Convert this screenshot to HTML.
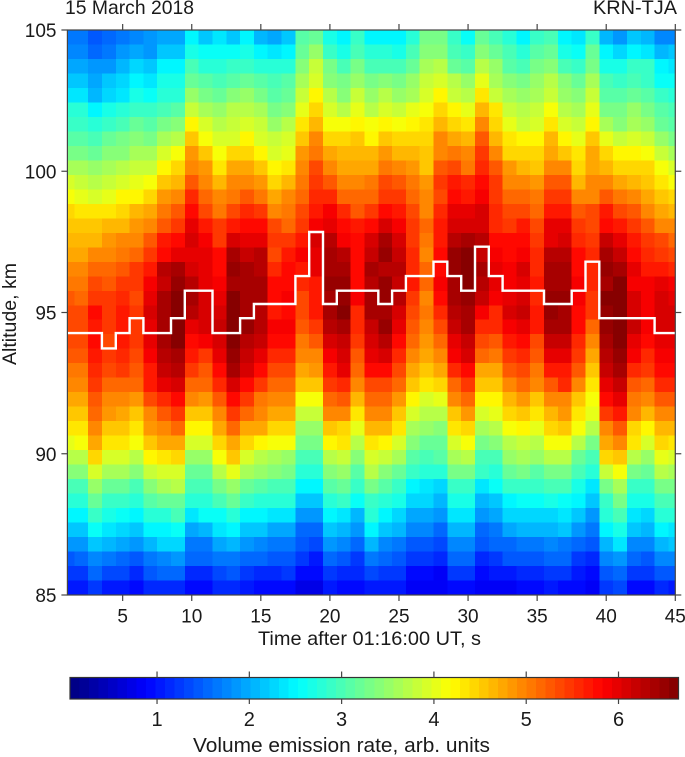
<!DOCTYPE html>
<html>
<head>
<meta charset="utf-8">
<title>Volume emission rate</title>
<style>
html,body{margin:0;padding:0;background:#fff;}
svg{display:block;}
text{font-family:"Liberation Sans",Arial,sans-serif;fill:#1a1a1a;}
</style>
</head>
<body>
<svg id="chart" xmlns="http://www.w3.org/2000/svg" width="685" height="757" viewBox="0 0 685 757">
<g id="heatmap" shape-rendering="crispEdges"></g>
<polyline id="peak" fill="none" stroke="#ffffff" stroke-width="2.4"></polyline>
<rect x="67.4" y="30" width="607.9" height="565" fill="none" stroke="#444" stroke-width="1.2"></rect>
<g id="axes"></g>
<g id="colorbar"></g>
<text x="65" y="14" font-size="19.5" textLength="129" lengthAdjust="spacingAndGlyphs">15 March 2018</text>
<text x="593" y="14" font-size="19.5" textLength="84" lengthAdjust="spacingAndGlyphs">KRN-TJA</text>
<text x="258" y="645" font-size="19.5" textLength="223" lengthAdjust="spacingAndGlyphs">Time after 01:16:00 UT, s</text>
<text transform="translate(16,365) rotate(-90)" font-size="19.5" textLength="102" lengthAdjust="spacingAndGlyphs">Altitude, km</text>
<text x="193" y="752" font-size="20" textLength="297" lengthAdjust="spacingAndGlyphs">Volume emission rate, arb. units</text>
</svg>
<script>
const xTicks = [5,10,15,20,25,30,35,40,45];
const yTicks = [85,90,95,100,105];
const colorbarTicks = [1,2,3,4,5,6];
const peakAltitude = [94.27,94.27,94.27,93.73,94.27,94.8,94.27,94.27,94.8,95.77,95.77,94.27,94.27,94.8,95.3,95.3,95.3,96.29,97.85,95.3,95.77,95.77,95.77,95.3,95.77,96.29,96.29,96.8,96.29,95.77,97.33,96.29,95.77,95.77,95.77,95.3,95.3,95.77,96.8,94.8,94.8,94.8,94.8,94.27,94.27];
const emission = [
[1.7,1.7,1.4,1.5,1.7,1.8,1.9,2.0,2.0,2.5,2.2,2.4,2.2,2.5,2.1,2.0,2.2,3.1,3.2,2.7,2.5,2.9,2.5,2.5,2.5,2.8,3.3,3.3,2.9,2.6,3.2,3.0,2.8,2.5,2.9,3.0,2.5,2.4,2.9,2.1,1.9,2.2,2.1,1.8,1.8],
[1.8,1.8,1.6,1.7,1.9,2.0,1.9,2.2,2.2,2.7,2.6,2.6,2.6,2.7,2.5,2.4,2.5,3.2,3.5,2.9,2.7,3.0,2.8,2.8,2.7,3.0,3.4,3.4,3.0,2.9,3.4,3.2,3.0,2.8,3.1,3.2,2.7,2.6,3.2,2.5,2.3,2.5,2.4,2.1,2.2],
[2.0,2.0,1.9,1.9,2.1,2.3,2.2,2.5,2.5,3.0,2.8,2.8,2.9,2.9,2.8,2.8,2.8,3.4,3.8,3.3,3.0,3.3,3.0,3.0,3.0,3.2,3.6,3.7,3.2,3.1,3.7,3.5,3.1,3.0,3.3,3.4,3.0,2.9,3.3,2.7,2.7,2.9,2.9,2.5,2.4],
[2.2,2.2,2.0,2.2,2.3,2.5,2.4,2.7,2.7,3.2,3.1,3.0,3.1,3.2,3.1,3.0,3.1,3.6,3.9,3.4,3.3,3.5,3.3,3.4,3.3,3.5,3.8,3.9,3.7,3.5,4.0,3.6,3.4,3.3,3.5,3.7,3.4,3.2,3.6,3.0,2.9,3.0,2.9,2.6,2.6],
[2.4,2.4,2.1,2.3,2.4,2.7,2.6,2.8,2.8,3.5,3.3,3.2,3.4,3.5,3.3,3.1,3.2,3.8,4.2,3.7,3.4,3.8,3.5,3.7,3.5,3.6,3.9,4.2,3.8,3.7,4.3,3.8,3.6,3.5,3.6,3.8,3.5,3.4,3.8,3.1,3.1,3.2,3.1,2.9,2.8],
[2.8,2.8,2.5,2.7,2.8,2.9,2.9,3.0,3.1,3.8,3.6,3.5,3.7,3.7,3.6,3.3,3.4,4.0,4.4,3.9,3.7,4.0,3.7,3.9,3.8,4.0,4.1,4.4,4.2,4.0,4.6,4.3,3.8,3.7,3.8,4.1,3.7,3.6,4.0,3.3,3.3,3.5,3.3,3.1,3.0],
[2.9,2.9,2.8,2.9,3.0,3.2,3.1,3.3,3.4,4.2,3.9,3.7,3.8,3.9,3.8,3.5,3.7,4.3,4.6,4.1,4.1,4.2,4.1,4.2,4.1,4.2,4.3,4.6,4.4,4.3,4.9,4.4,4.0,3.8,3.9,4.3,3.9,3.8,4.2,3.6,3.4,3.6,3.5,3.2,3.1],
[3.1,3.1,3.0,3.2,3.3,3.4,3.3,3.6,3.7,4.5,4.1,3.9,3.9,4.2,3.9,3.8,3.9,4.5,5.0,4.4,4.4,4.5,4.2,4.5,4.4,4.4,4.4,4.9,4.7,4.6,5.3,4.6,4.3,4.2,4.2,4.6,4.2,4.0,4.5,4.0,3.8,3.9,3.8,3.5,3.3],
[3.3,3.3,3.2,3.4,3.4,3.6,3.6,3.9,4.1,4.8,4.5,4.1,4.4,4.4,4.2,3.9,4.0,4.8,5.1,4.7,4.6,4.6,4.6,4.8,4.6,4.6,4.5,5.0,5.1,4.9,5.5,5.0,4.4,4.4,4.4,4.7,4.5,4.3,4.7,4.4,4.2,4.2,4.1,3.8,3.6],
[3.6,3.6,3.5,3.6,3.7,3.8,3.8,4.2,4.4,5.0,4.8,4.3,4.7,4.7,4.5,4.2,4.3,5.0,5.4,5.0,4.7,4.7,4.7,5.1,4.9,4.8,4.5,5.3,5.4,5.1,5.6,5.3,4.8,4.6,4.5,5.0,5.0,4.4,4.7,4.6,4.4,4.4,4.4,4.1,3.9],
[3.9,3.8,3.7,3.8,3.9,4.0,4.1,4.5,4.6,5.3,5.0,4.6,4.9,4.9,4.8,4.4,4.6,5.1,5.5,5.3,5.0,5.0,5.1,5.4,5.3,5.1,4.8,5.5,5.7,5.6,5.8,5.5,5.0,5.0,4.8,5.3,5.3,4.6,4.9,4.9,4.7,4.6,4.5,4.3,4.1],
[4.1,4.0,3.9,4.0,4.2,4.2,4.4,4.8,4.9,5.6,5.2,4.9,5.1,5.3,5.1,4.7,4.9,5.2,5.6,5.6,5.2,5.2,5.2,5.5,5.5,5.2,4.9,5.4,5.8,5.7,5.9,5.5,5.2,5.2,5.1,5.5,5.5,4.9,5.0,5.3,5.1,4.9,4.7,4.5,4.4],
[4.4,4.3,4.3,4.3,4.4,4.6,4.7,5.1,5.3,5.8,5.4,5.1,5.4,5.6,5.5,5.0,5.1,5.4,5.7,5.9,5.6,5.3,5.5,5.8,5.7,5.4,5.0,5.6,6.0,6.0,6.1,5.6,5.4,5.4,5.2,5.7,5.7,5.3,5.4,5.7,5.4,5.3,5.0,4.7,4.6],
[4.5,4.5,4.5,4.6,4.6,4.8,4.9,5.3,5.5,6.0,5.7,5.5,5.7,5.8,5.8,5.4,5.2,5.5,5.9,6.0,5.8,5.7,5.8,6.1,5.9,5.5,5.2,5.7,6.1,6.1,6.1,5.6,5.5,5.7,5.4,6.0,6.0,5.5,5.4,5.8,5.7,5.5,5.3,5.0,4.9],
[4.6,4.6,4.6,4.8,4.9,5.0,5.3,5.7,5.8,6.1,5.9,5.5,6.1,6.0,6.0,5.5,5.5,5.7,6.1,6.3,5.9,5.8,6.1,6.4,6.1,5.5,5.1,5.7,6.3,6.4,6.3,5.8,5.8,5.8,5.5,6.0,6.1,5.6,5.5,6.2,6.0,5.7,5.5,5.4,5.2],
[4.7,4.7,4.9,4.9,5.1,5.2,5.5,5.8,6.0,6.0,6.0,5.8,6.4,6.2,6.3,5.4,5.7,5.9,6.0,6.4,6.3,5.8,6.2,6.5,6.2,5.6,5.0,5.8,6.5,6.6,6.2,5.9,5.8,5.9,5.6,6.3,6.3,5.8,5.6,6.4,6.2,5.8,5.6,5.5,5.4],
[5.0,5.0,5.2,5.2,5.3,5.5,5.7,6.3,6.4,6.1,6.0,5.8,6.5,6.4,6.3,5.6,5.8,5.7,6.0,6.4,6.4,5.8,6.4,6.3,6.3,5.6,5.2,5.8,6.5,6.7,6.4,6.0,5.9,6.1,5.6,6.4,6.4,5.8,5.6,6.5,6.4,6.0,5.7,5.7,5.6],
[5.1,5.1,5.4,5.3,5.5,5.5,5.9,6.2,6.5,6.3,6.0,5.9,6.4,6.4,6.4,5.8,5.8,5.6,5.7,6.5,6.5,5.8,6.3,6.5,6.2,5.7,5.2,5.9,6.4,6.6,6.3,6.0,5.9,6.0,5.7,6.4,6.4,5.9,5.6,6.4,6.6,5.9,5.9,6.0,5.9],
[5.3,5.2,5.5,5.5,5.6,5.4,6.0,6.4,6.6,6.4,6.1,6.0,6.6,6.4,6.4,5.8,5.9,5.4,5.7,6.4,6.5,5.9,6.4,6.5,6.3,5.5,5.0,5.8,6.4,6.5,6.2,5.9,6.0,6.1,5.6,6.5,6.5,5.9,5.5,6.6,6.7,6.1,5.9,6.1,6.0],
[5.4,5.4,5.8,5.5,5.7,5.5,6.1,6.4,6.6,6.3,6.1,6.1,6.7,6.4,6.3,5.7,5.8,5.4,5.7,6.4,6.6,5.6,6.4,6.4,6.1,5.4,5.1,5.6,6.3,6.4,5.9,5.6,6.1,6.2,5.7,6.5,6.4,5.8,5.5,6.5,6.7,6.1,5.9,6.1,6.1],
[5.4,5.4,5.7,5.5,5.7,5.5,6.0,6.4,6.6,6.0,6.1,6.2,6.7,6.5,6.3,5.9,5.9,5.3,5.5,6.3,6.4,5.6,6.2,6.5,6.0,5.3,5.0,5.4,6.2,6.4,5.6,5.6,5.9,6.0,5.7,6.4,6.4,5.8,5.2,6.5,6.7,6.2,5.9,6.1,6.1],
[5.4,5.4,5.8,5.4,5.7,5.5,6.0,6.4,6.6,5.8,5.9,6.1,6.6,6.3,6.2,5.8,5.8,5.1,5.3,6.1,6.2,5.5,6.1,6.3,5.8,5.2,4.8,5.2,6.0,6.2,5.4,5.3,5.7,5.8,5.4,6.2,6.2,5.6,5.0,6.4,6.6,6.0,5.8,6.0,6.0],
[5.3,5.3,5.7,5.5,5.6,5.4,5.9,6.3,6.4,5.7,5.5,6.0,6.5,6.2,6.0,5.6,5.6,4.9,5.0,5.9,6.1,5.3,6.0,6.1,5.6,5.0,4.7,4.9,5.9,6.1,5.2,5.1,5.5,5.6,5.3,6.0,6.0,5.5,4.7,6.3,6.5,5.9,5.6,5.9,5.9],
[5.1,5.1,5.6,5.4,5.5,5.3,5.7,6.2,6.3,5.5,5.3,5.8,6.4,6.1,5.8,5.4,5.4,4.7,4.8,5.7,6.0,5.2,5.8,5.8,5.4,4.7,4.5,4.7,5.6,5.8,4.7,4.7,5.3,5.4,5.1,5.7,5.7,5.3,4.5,6.2,6.4,5.6,5.5,5.8,5.8],
[4.9,4.9,5.5,5.2,5.2,5.2,5.7,6.0,6.1,5.2,5.2,5.6,6.1,5.8,5.5,5.2,5.2,4.5,4.5,5.5,5.6,5.0,5.4,5.4,5.2,4.5,4.3,4.4,5.2,5.5,4.5,4.5,5.0,5.2,4.9,5.3,5.6,5.0,4.3,6.0,6.2,5.3,5.2,5.6,5.6],
[4.7,4.7,5.3,5.0,5.0,4.8,5.4,5.6,5.8,4.9,4.8,5.3,5.8,5.5,5.1,4.9,4.9,4.1,4.1,5.2,5.3,4.6,5.2,5.2,4.8,4.2,3.9,4.0,5.0,5.2,4.2,4.2,4.6,4.8,4.5,5.0,5.0,4.5,4.1,5.8,6.0,5.1,4.9,5.3,5.3],
[4.5,4.5,5.2,4.8,4.7,4.5,5.0,5.3,5.5,4.5,4.5,5.0,5.5,5.2,4.9,4.7,4.7,3.8,3.8,4.9,5.0,4.3,4.9,4.9,4.5,3.9,3.7,3.7,4.5,4.8,3.9,4.0,4.4,4.5,4.3,4.6,4.8,4.3,4.0,5.5,5.7,4.9,4.6,5.0,5.0],
[4.3,4.3,4.9,4.5,4.5,4.3,4.8,4.9,5.2,4.2,4.2,4.7,5.2,4.7,4.7,4.4,4.4,3.5,3.5,4.5,4.4,4.0,4.6,4.6,4.3,3.6,3.5,3.4,4.3,4.4,3.6,3.7,4.1,4.2,4.0,4.4,4.5,4.1,3.7,5.0,5.3,4.4,4.2,4.6,4.6],
[4.0,4.1,4.7,4.3,4.3,4.1,4.5,4.7,4.7,3.9,3.9,4.4,4.7,4.4,4.2,4.1,4.1,3.3,3.3,4.2,4.3,3.7,4.3,4.2,3.9,3.4,3.2,3.2,3.9,4.1,3.3,3.4,3.7,3.8,3.7,4.1,4.1,3.7,3.3,4.7,5.0,4.3,3.9,4.4,4.3],
[3.7,3.7,4.4,3.9,3.9,3.7,4.2,4.3,4.4,3.5,3.5,4.1,4.5,3.9,3.7,3.6,3.5,3.0,3.0,3.7,3.8,3.4,3.9,3.8,3.6,3.1,3.0,3.1,3.6,3.7,3.0,3.0,3.5,3.6,3.5,3.7,3.7,3.2,3.0,4.4,4.5,3.7,3.5,4.0,3.9],
[3.4,3.4,3.9,3.6,3.6,3.4,3.8,3.9,3.9,3.2,3.2,3.7,4.0,3.6,3.5,3.4,3.3,2.8,2.8,3.4,3.5,3.1,3.7,3.4,3.2,2.9,2.8,2.8,3.3,3.3,2.9,2.8,3.2,3.3,3.1,3.3,3.3,3.0,2.8,3.8,4.1,3.3,3.2,3.7,3.6],
[3.0,3.0,3.5,3.2,3.2,3.0,3.4,3.6,3.7,3.0,3.0,3.3,3.5,3.2,3.1,3.0,3.0,2.5,2.5,3.1,3.2,2.9,3.3,3.1,2.9,2.5,2.4,2.3,2.9,2.9,2.4,2.6,2.9,2.9,2.9,3.0,3.0,2.7,2.4,3.3,3.6,2.9,2.9,3.3,3.3],
[2.8,2.8,3.2,2.9,2.9,2.8,3.1,3.2,3.2,2.8,2.8,3.0,3.2,2.9,2.8,2.8,2.8,2.2,2.2,2.8,2.9,2.6,2.9,2.8,2.7,2.3,2.3,2.1,2.7,2.7,2.1,2.2,2.5,2.6,2.6,2.7,2.6,2.5,2.2,2.9,3.3,2.7,2.7,3.0,3.0],
[2.5,2.5,2.9,2.7,2.6,2.5,2.8,2.8,3.0,2.4,2.6,2.6,2.8,2.5,2.5,2.4,2.4,1.9,1.9,2.5,2.4,2.1,2.8,2.5,2.3,2.0,2.0,1.9,2.4,2.4,1.9,2.0,2.3,2.3,2.3,2.3,2.4,2.2,1.9,2.8,3.0,2.4,2.3,2.8,2.8],
[2.2,2.2,2.6,2.4,2.3,2.2,2.5,2.5,2.6,2.0,2.1,2.4,2.5,2.2,2.2,2.0,2.0,1.6,1.6,2.2,2.1,1.9,2.5,2.2,2.1,1.8,1.8,1.6,2.1,2.1,1.6,1.7,2.0,2.1,2.1,2.1,2.2,1.9,1.7,2.5,2.7,2.2,2.1,2.5,2.4],
[1.9,1.9,2.2,2.1,2.0,1.9,2.1,2.3,2.3,1.7,1.7,2.0,2.1,1.9,1.8,1.7,1.7,1.4,1.3,1.9,1.8,1.5,2.1,1.8,1.7,1.4,1.4,1.3,1.8,1.8,1.4,1.5,1.6,1.7,1.7,1.8,1.7,1.5,1.4,2.1,2.4,1.8,1.8,2.1,2.2],
[1.4,1.5,1.8,1.7,1.6,1.4,1.7,1.8,1.9,1.5,1.5,1.7,1.7,1.5,1.5,1.4,1.4,1.2,1.0,1.5,1.4,1.2,1.7,1.5,1.4,1.2,1.2,1.1,1.5,1.5,1.1,1.2,1.4,1.4,1.4,1.5,1.5,1.2,1.1,1.8,1.9,1.5,1.4,1.8,1.8],
[1.2,1.2,1.5,1.3,1.3,1.1,1.4,1.5,1.5,1.1,1.1,1.3,1.4,1.2,1.1,1.1,1.2,0.9,0.9,1.2,1.1,1.1,1.3,1.2,1.2,0.9,0.9,0.8,1.2,1.2,0.9,1.0,1.0,1.1,1.1,1.2,1.2,1.0,0.9,1.4,1.6,1.2,1.2,1.4,1.4],
[1.0,1.0,1.2,1.0,1.0,0.9,1.1,1.1,1.1,0.9,0.9,1.1,1.1,1.0,0.9,0.9,0.9,0.7,0.7,1.0,0.9,0.9,1.0,1.0,1.0,0.8,0.8,0.8,0.9,0.9,0.8,0.8,0.8,0.9,0.9,1.0,0.9,0.9,0.8,1.2,1.3,0.9,0.9,1.1,1.0]
];

const SVGNS = "http://www.w3.org/2000/svg";
const plot = {left:67.4, right:675.3, top:30, bottom:595};
const tMin = 1, tMax = 45, altMin = 85, altMax = 105;
const bar = {left:70, right:678.5, top:677.5, bottom:699, vMin:0.057, vMax:6.65};

function xScale(t){ return plot.left + (t - tMin) / (tMax - tMin) * (plot.right - plot.left); }
function yScale(a){ return plot.bottom - (a - altMin) / (altMax - altMin) * (plot.bottom - plot.top); }
function barX(v){ return bar.left + (v - bar.vMin) / (bar.vMax - bar.vMin) * (bar.right - bar.left); }

function jet(level){
  const f = (level + 0.5) / 64;
  function ch(c){ return Math.round(255 * Math.max(0, Math.min(1, 1.5 - Math.abs(4 * f - c)))); }
  return "rgb(" + ch(3) + "," + ch(2) + "," + ch(1) + ")";
}
function levelOf(v){
  const l = Math.floor((v - bar.vMin) / (bar.vMax - bar.vMin) * 64);
  return Math.max(0, Math.min(63, l));
}
function make(tag, attrs, parent){
  const el = document.createElementNS(SVGNS, tag);
  for (const k in attrs) el.setAttribute(k, attrs[k]);
  parent.appendChild(el);
  return el;
}

const heat = document.getElementById("heatmap");
const rowCount = emission.length;
const rowSpan = (altMax - altMin) / rowCount;
emission.forEach(function(row, r){
  const a1 = altMax - r * rowSpan;
  const a0 = a1 - rowSpan;
  row.forEach(function(v, c){
    const t = c + 1;
    const x0 = xScale(Math.max(tMin, t - 0.5));
    const x1 = xScale(Math.min(tMax, t + 0.5));
    const cell = make("rect", {x:x0.toFixed(2), y:yScale(a1).toFixed(2), width:(x1 - x0 + 0.4).toFixed(2), height:(yScale(a0) - yScale(a1) + 0.4).toFixed(2), fill:jet(levelOf(v))}, heat);
    
    
  });
});

const pts = [];
peakAltitude.forEach(function(a, c){
  const t = c + 1;
  pts.push(xScale(Math.max(tMin, t - 0.5)).toFixed(1) + "," + yScale(a).toFixed(1));
  pts.push(xScale(Math.min(tMax, t + 0.5)).toFixed(1) + "," + yScale(a).toFixed(1));
});
document.getElementById("peak").setAttribute("points", pts.join(" "));

const axes = document.getElementById("axes");
xTicks.forEach(function(t){
  const x = xScale(t);
  const topTick = make("line", {x1:x, x2:x, y1:plot.top, y2:plot.top - 6, stroke:"#444", "stroke-width":1.2}, axes);
  
  
  const botTick = make("line", {x1:x, x2:x, y1:plot.bottom, y2:plot.bottom + 6, stroke:"#444", "stroke-width":1.2}, axes);
  
  
  const label = make("text", {x:x, y:622.7, "font-size":19, "text-anchor":"middle"}, axes);
  label.textContent = t;
  
  
});
yTicks.forEach(function(a){
  const y = yScale(a);
  const leftTick = make("line", {x1:plot.left, x2:plot.left - 6, y1:y, y2:y, stroke:"#444", "stroke-width":1.2}, axes);
  
  
  const rightTick = make("line", {x1:plot.right, x2:plot.right + 6, y1:y, y2:y, stroke:"#444", "stroke-width":1.2}, axes);
  
  
  const label = make("text", {x:56.5, y:y + 7, "font-size":19, "text-anchor":"end"}, axes);
  label.textContent = a;
  
  
});

const cb = document.getElementById("colorbar");
const levelWidth = (bar.right - bar.left) / 64;
for (let i = 0; i < 64; i++) {
  const swatch = make("rect", {x:(bar.left + i * levelWidth).toFixed(2), y:bar.top, width:(levelWidth + 0.4).toFixed(2), height:bar.bottom - bar.top, fill:jet(i), "shape-rendering":"crispEdges"}, cb);
  
  
}
const cbFrame = make("rect", {x:bar.left, y:bar.top, width:bar.right - bar.left, height:bar.bottom - bar.top, fill:"none", stroke:"#333", "stroke-width":1.2}, cb);


colorbarTicks.forEach(function(v){
  const x = barX(v);
  const t1 = make("line", {x1:x, x2:x, y1:bar.top, y2:bar.top - 6, stroke:"#444", "stroke-width":1.2}, cb);
  
  
  const t2 = make("line", {x1:x, x2:x, y1:bar.bottom, y2:bar.bottom + 5, stroke:"#444", "stroke-width":1.2}, cb);
  
  
  const label = make("text", {x:x, y:726, "font-size":20, "text-anchor":"middle"}, cb);
  label.textContent = v;
  
  
});
</script>
</body>
</html>
